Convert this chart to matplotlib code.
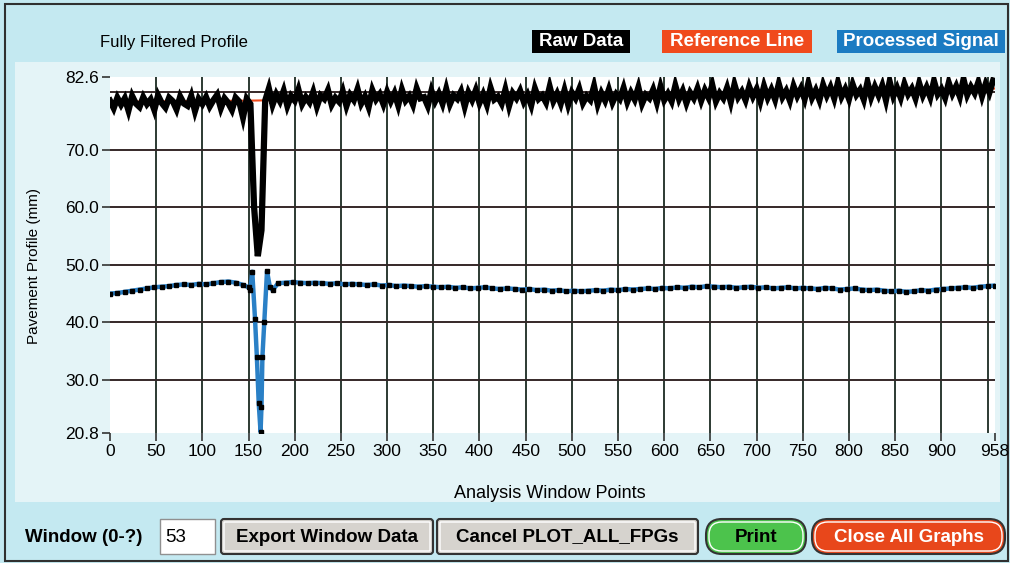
import numpy as np
import matplotlib.pyplot as plt
from matplotlib.patches import FancyBboxPatch, Rectangle

plt.rcParams['font.family'] = ['Liberation Sans', 'DejaVu Sans']

# Raw data, one reading every 4 analysis points (0..956)
raw_step = 4
raw_y = [
    78.5, 77.2, 79.0, 77.8, 78.9, 76.8, 79.3, 78.0, 77.4, 79.1, 77.9, 78.7, 76.9, 79.4, 78.1, 77.3, 79.0, 78.4, 77.0, 79.2,
    78.0, 77.6, 79.3, 76.7, 78.8, 77.9, 79.1, 77.5, 78.6, 79.5, 77.2, 78.9, 78.1, 76.9, 79.0, 78.3, 75.6, 78.8, 77.9, 60.0,
    51.5, 56.0, 78.5, 80.6, 77.8, 79.6, 78.4, 80.2, 77.6, 79.3, 78.5, 80.4, 77.9, 79.1, 78.2, 80.0, 77.5, 79.4, 78.8, 80.3,
    77.8, 79.0, 78.3, 80.1, 77.6, 79.5, 78.6, 80.5, 78.0, 79.2, 77.4, 80.3, 78.7, 79.6, 77.9, 80.0, 78.4, 79.8, 77.7, 80.4,
    78.5, 79.3, 77.8, 80.6, 78.9, 79.1, 77.6, 80.2, 78.4, 79.7, 78.0, 80.5, 77.9, 79.4, 78.8, 80.1, 77.5, 79.9, 78.6, 80.3,
    78.1, 79.6, 77.8, 80.7, 78.7, 79.2, 78.0, 80.4, 77.6, 79.8, 78.9, 80.2, 78.3, 79.5, 77.7, 80.6, 78.8, 79.4, 78.2, 80.9,
    78.4, 79.7, 78.0, 80.3, 77.8, 79.9, 78.9, 80.5, 78.1, 79.3, 78.6, 81.0, 77.9, 79.8, 78.5, 80.4, 78.2, 79.6, 78.8, 80.7,
    78.3, 79.9, 78.7, 80.8, 78.0, 79.5, 78.9, 80.4, 78.2, 80.9, 78.6, 79.7, 78.4, 81.1, 78.8, 80.2, 78.1, 79.9, 78.9, 80.6,
    78.5, 80.3, 79.0, 81.2, 78.4, 79.8, 78.9, 80.7, 78.3, 81.3, 79.1, 80.1, 78.6, 80.9, 79.2, 80.5, 78.4, 81.0, 79.0, 80.4,
    78.7, 81.4, 79.1, 80.2, 78.5, 81.0, 79.3, 80.6, 78.8, 81.5, 79.0, 80.3, 78.6, 81.2, 79.4, 80.8, 78.9, 81.6, 79.2, 80.5,
    78.8, 81.3, 79.5, 80.4, 78.7, 81.7, 79.1, 80.9, 79.4, 81.1, 78.6, 81.8, 79.3, 80.7, 79.0, 81.4, 79.6, 80.6, 78.9, 81.5,
    79.4, 80.8, 79.1, 81.9, 79.6, 80.5, 79.0, 81.6, 79.7, 81.0, 79.2, 82.2, 79.5, 80.9, 79.8, 81.7, 79.3, 81.4, 79.9, 82.0,
]
raw_x = np.arange(len(raw_y)) * raw_step

# Reference line
ref_x = [0, 150, 300, 450, 600, 750, 958]
ref_y = [78.3, 78.5, 78.9, 79.3, 79.6, 80.0, 80.6]

# Processed signal
proc_x = ([0, 8, 16, 24, 32, 40, 48, 56, 64, 72, 80, 88, 96, 104, 112, 120, 128, 136, 144, 150, 152,
           154, 157, 159, 161, 163, 164, 165, 167, 170, 173, 176, 182]
          + list(range(190, 951, 8)) + [958])
proc_y = ([45.0, 45.1, 45.3, 45.5, 45.7, 45.9, 46.1, 46.2, 46.3, 46.5, 46.6, 46.5, 46.7, 46.6, 46.8, 47.0, 47.1, 46.9, 46.5, 46.1, 45.6,
           48.8, 40.6, 34.0, 26.0, 21.0, 25.4, 34.0, 40.0, 48.9, 46.2, 45.6, 46.8]
          + [46.9, 47.0, 46.9, 46.8, 46.9, 46.8, 46.7, 46.8, 46.6, 46.7,
             46.6, 46.5, 46.6, 46.4, 46.5, 46.3, 46.4, 46.3, 46.2, 46.3,
             46.2, 46.1, 46.2, 46.0, 46.1, 45.9, 46.0, 46.1, 45.9, 45.8,
             45.9, 45.8, 45.7, 45.8, 45.6, 45.7, 45.5, 45.6, 45.4, 45.5,
             45.4, 45.5, 45.6, 45.5, 45.7, 45.6, 45.8, 45.7, 45.8, 45.9,
             45.8, 46.0, 45.9, 46.1, 46.0, 46.2, 46.1, 46.3, 46.2, 46.1,
             46.2, 46.0, 46.1, 46.2, 46.0, 46.1, 45.9, 46.0, 46.1, 45.9,
             46.0, 45.9, 45.8, 46.0, 45.9, 45.7, 45.8, 45.9, 45.7, 45.6,
             45.7, 45.5, 45.4, 45.5, 45.3, 45.4, 45.6, 45.5, 45.7, 45.8,
             45.9, 46.0, 46.1, 46.0, 46.2, 46.3]
          + [46.4])

x_ticks = list(range(0, 901, 50)) + [958]
x_grid = list(range(50, 951, 50))
y_ticks = [20.8, 30.0, 40.0, 50.0, 60.0, 70.0, 82.6]
y_grid = [30, 40, 50, 60, 70, 80]

fig = plt.figure(figsize=(10.1, 5.63), dpi=100)
fig.patch.set_facecolor('#c4e9f1')

# background "window" layer in pixel coordinates
bg = fig.add_axes([0, 0, 1, 1], zorder=0)
bg.set_xlim(0, 1010)
bg.set_ylim(563, 0)
bg.axis('off')
bg.add_patch(Rectangle((15, 62), 985, 440, fc='#e4f4f7', ec='none'))
bg.add_patch(Rectangle((5, 4), 1003, 557, fc='none', ec='#303030', lw=1.5))

bg.text(100, 42, 'Fully Filtered Profile', fontsize=12, va='center', ha='left')
legend = [('Raw Data', '#000000', 532, 98), ('Reference Line', '#f04a1c', 662, 150),
          ('Processed Signal', '#1b7bc2', 837, 168)]
for label, col, x0, w in legend:
    bg.add_patch(Rectangle((x0, 30), w, 23, fc=col, ec='none'))
    bg.text(x0 + w / 2, 41.5, label, color='white', fontsize=13.5, fontweight='bold',
            ha='center', va='center')

# bottom controls
bg.text(25, 537, 'Window (0-?)', fontsize=13.5, fontweight='bold', va='center')
bg.add_patch(Rectangle((160, 519), 55, 35, fc='white', ec='#909090', lw=1))
bg.text(165, 537, '53', fontsize=13.5, va='center')
buttons = [('Export Window Data', 221, 212, '#d6d3ce', 'black', 3),
           ('Cancel PLOT_ALL_FPGs', 437, 261, '#d6d3ce', 'black', 3),
           ('Print', 706, 100, '#4cc34c', 'black', 16),
           ('Close All Graphs', 812, 193, '#e8471b', 'white', 16)]
for label, x0, w, fc, tc, r in buttons:
    bg.add_patch(FancyBboxPatch((x0, 519), w, 35, boxstyle='round,pad=0,rounding_size=%d' % r,
                                fc=fc, ec='#333333', lw=1.5))
    bg.add_patch(FancyBboxPatch((x0 + 3, 522), w - 6, 29, boxstyle='round,pad=0,rounding_size=%d' % max(r - 3, 1),
                                fc='none', ec='white', lw=1))
    bg.text(x0 + w / 2, 537, label, color=tc, fontsize=13.5, fontweight='bold',
            ha='center', va='center')

# plot
ax = fig.add_axes([0.1089, 0.2309, 0.8762, 0.6323], zorder=1)
ax.set_facecolor('white')
for x in x_grid:
    ax.axvline(x, color='#2c3a32', lw=1.4, zorder=1)
for y in y_grid:
    ax.axhline(y, color='#352828', lw=1.4, zorder=1)

ax.plot(ref_x, ref_y, color='#f04a1c', lw=1.5, zorder=2)
ax.plot(raw_x, raw_y, color='black', lw=4.5, solid_joinstyle='miter', zorder=3)
ax.plot(proc_x, proc_y, color='#2a80c6', lw=3.2, zorder=4,
        marker='s', markersize=2.2, markerfacecolor='black', markeredgecolor='black')

ax.set_xlim(0, 958)
ax.set_ylim(20.8, 82.6)
ax.set_xticks(x_ticks)
ax.set_xticklabels([str(v) for v in x_ticks], fontsize=12.5)
ax.set_yticks(y_ticks)
ax.set_yticklabels(['%.1f' % v for v in y_ticks], fontsize=12.5)
ax.tick_params(axis='both', direction='out', length=6, width=1.2, color='#333333', pad=2)
for s in ax.spines.values():
    s.set_visible(False)

ax.set_xlabel('Analysis Window Points', fontsize=13)
ax.set_ylabel('Pavement Profile (mm)', fontsize=11)
ax.xaxis.set_label_coords(0.497, -0.146)
ax.yaxis.set_label_coords(-0.078, 0.47)

plt.savefig('out.png', dpi=100, facecolor=fig.get_facecolor())
